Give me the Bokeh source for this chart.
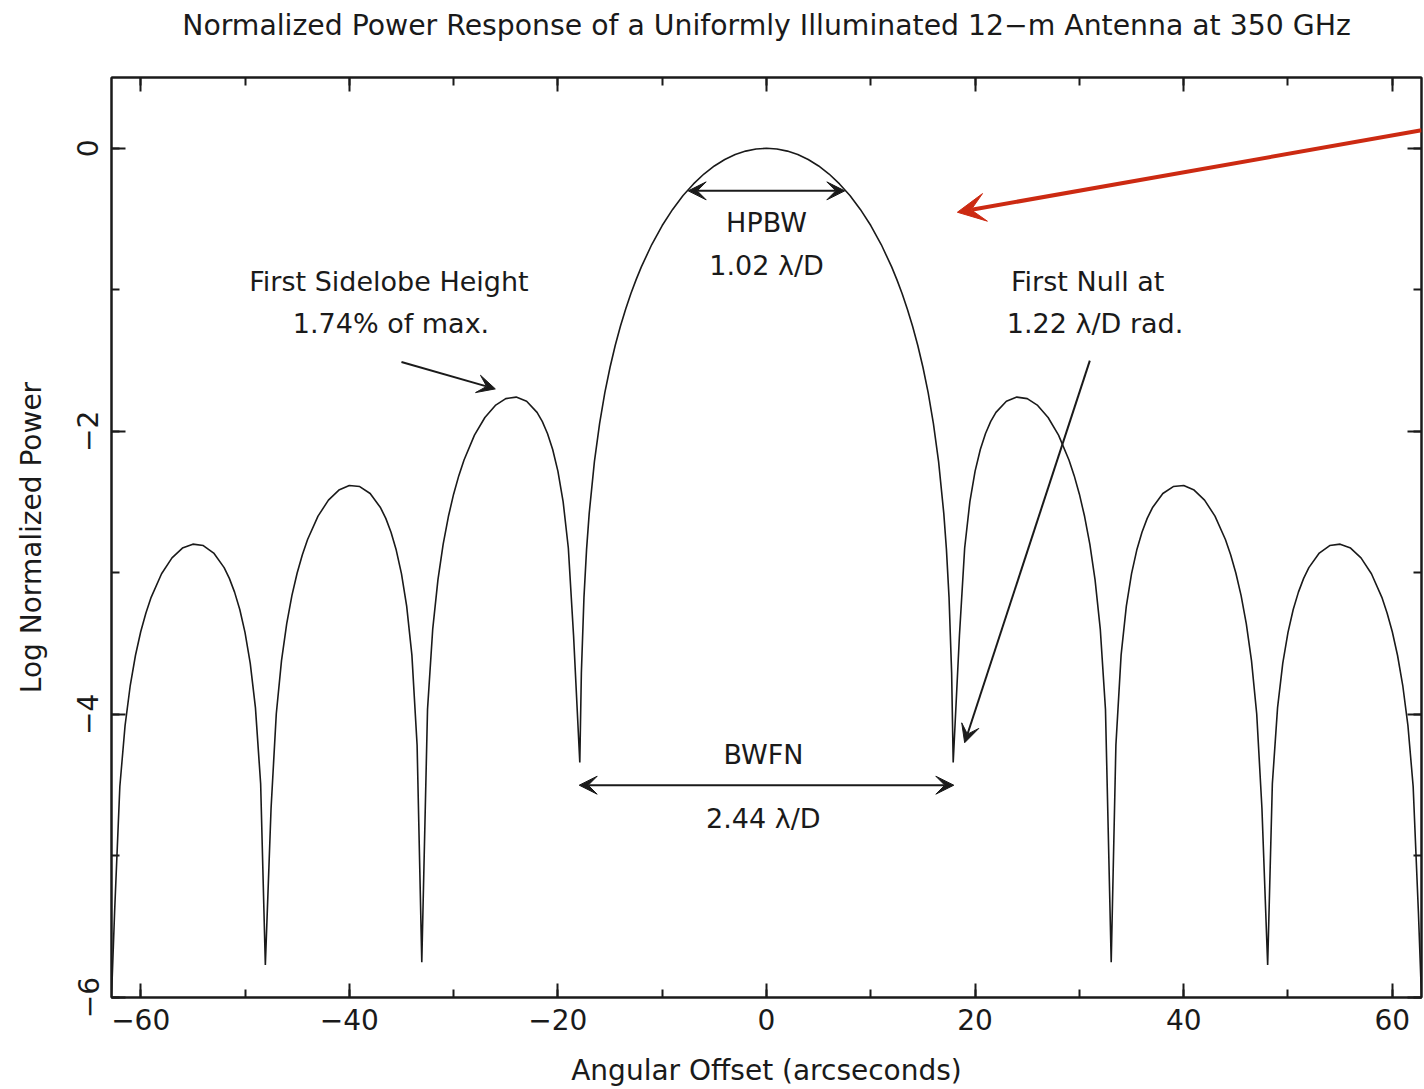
from bokeh.plotting import figure
from bokeh.models import (LinearAxis, FixedTicker, Label, Arrow, VeeHead, Range1d)
from bokeh.embed import file_html
from bokeh.resources import INLINE

# Angular offset from boresight (arcseconds) and log10 of the normalized power
offset_arcsec = [
    -62.8, -62.5, -62.0, -61.5, -61.0, -60.5, -60.0, -59.5,
    -59.0, -58.0, -57.0, -56.0, -55.0, -54.0, -53.0,
    -52.0, -51.5, -51.0, -50.5, -50.0, -49.5, -49.0, -48.5, -48.05,
    -47.5, -47.0, -46.5, -46.0, -45.5, -45.0, -44.5,
    -44.0, -43.0, -42.0, -41.0, -40.0, -39.0, -38.0,
    -37.0, -36.5, -36.0, -35.5, -35.0, -34.5, -34.0, -33.5, -33.05,
    -32.5, -32.0, -31.5, -31.0, -30.5, -30.0, -29.5,
    -29.0, -28.0, -27.0, -26.0, -25.0, -24.0, -23.0,
    -22.0, -21.5, -21.0, -20.5, -20.0, -19.5, -19.0, -18.5,
    -17.9, -17.75, -17.5, -17.25,
    -17.0, -16.5, -16.0, -15.5, -15.0, -14.5, -14.0, -13.5, -13.0, -12.5,
    -12.0, -11.0, -10.0, -9.0, -8.0, -7.0, -6.0, -5.0, -4.0, -3.0, -2.0, -1.0,
    0.0,
    1.0, 2.0, 3.0, 4.0, 5.0, 6.0, 7.0, 8.0, 9.0, 10.0, 11.0, 12.0,
    12.5, 13.0, 13.5, 14.0, 14.5, 15.0, 15.5, 16.0, 16.5, 17.0,
    17.25, 17.5, 17.75, 17.9,
    18.5, 19.0, 19.5, 20.0, 20.5, 21.0, 21.5, 22.0,
    23.0, 24.0, 25.0, 26.0, 27.0, 28.0, 29.0,
    29.5, 30.0, 30.5, 31.0, 31.5, 32.0, 32.5,
    33.05, 33.5, 34.0, 34.5, 35.0, 35.5, 36.0, 36.5, 37.0,
    38.0, 39.0, 40.0, 41.0, 42.0, 43.0, 44.0,
    44.5, 45.0, 45.5, 46.0, 46.5, 47.0, 47.5,
    48.05, 48.5, 49.0, 49.5, 50.0, 50.5, 51.0, 51.5, 52.0,
    53.0, 54.0, 55.0, 56.0, 57.0, 58.0, 59.0,
    59.5, 60.0, 60.5, 61.0, 61.5, 62.0, 62.5, 62.8,
]
log_power = [
    -6.000, -5.390, -4.509, -4.079, -3.794, -3.582, -3.416, -3.283,
    -3.173, -3.006, -2.894, -2.825, -2.797, -2.807, -2.860,
    -2.963, -3.039, -3.136, -3.259, -3.420, -3.637, -3.952, -4.490, -5.770,
    -4.661, -3.995, -3.620, -3.358, -3.159, -3.001, -2.872,
    -2.764, -2.599, -2.486, -2.415, -2.383, -2.390, -2.439,
    -2.540, -2.615, -2.713, -2.839, -3.005, -3.235, -3.579, -4.216, -5.750,
    -3.963, -3.395, -3.048, -2.797, -2.602, -2.444, -2.313,
    -2.202, -2.027, -1.902, -1.817, -1.769, -1.758, -1.787,
    -1.866, -1.930, -2.015, -2.128, -2.281, -2.496, -2.824, -3.441,
    -4.340, -3.705, -3.171, -2.832,
    -2.581, -2.214, -1.943, -1.727, -1.547, -1.392, -1.256, -1.135, -1.026, -0.928,
    -0.838, -0.680, -0.546, -0.432, -0.334, -0.252, -0.182, -0.125, -0.079, -0.044, -0.020, -0.005,
    0.000,
    -0.005, -0.020, -0.044, -0.079, -0.125, -0.182, -0.252, -0.334, -0.432, -0.546, -0.680, -0.838,
    -0.928, -1.026, -1.135, -1.256, -1.392, -1.547, -1.727, -1.943, -2.214, -2.581,
    -2.832, -3.171, -3.705, -4.340,
    -3.441, -2.824, -2.496, -2.281, -2.128, -2.015, -1.930, -1.866,
    -1.787, -1.758, -1.769, -1.817, -1.902, -2.027, -2.202,
    -2.313, -2.444, -2.602, -2.797, -3.048, -3.395, -3.963,
    -5.750, -4.216, -3.579, -3.235, -3.005, -2.839, -2.713, -2.615, -2.540,
    -2.439, -2.390, -2.383, -2.415, -2.486, -2.599, -2.764,
    -2.872, -3.001, -3.159, -3.358, -3.620, -3.995, -4.661,
    -5.770, -4.490, -3.952, -3.637, -3.420, -3.259, -3.136, -3.039, -2.963,
    -2.860, -2.807, -2.797, -2.825, -2.894, -3.006, -3.173,
    -3.283, -3.416, -3.582, -3.794, -4.079, -4.509, -5.390, -6.000,
]

# Axis ticks and their labels
x_major = [-60, -40, -20, 0, 20, 40, 60]
x_minor = [-60, -50, -40, -30, -20, -10, 0, 10, 20, 30, 40, 50, 60]
x_labels = ["\u221260", "\u221240", "\u221220", "0", "20", "40", "60"]
y_major = [-6, -4, -2, 0]
y_minor = [-6, -5, -4, -3, -2, -1, 0]
y_labels = ["\u22126", "\u22124", "\u22122", "0"]

# Beam quantities quoted in the annotations
lam_over_d_arcsec = 14.72      # lambda/D at 350 GHz for a 12-m dish
hpbw_factor = 1.02
bwfn_factor = 2.44
half_power_log = -0.301        # log10(0.5)

TITLE = "Normalized Power Response of a Uniformly Illuminated 12\u2212m Antenna at 350 GHz"
FONT = "DejaVu Sans"
INK = "#1a1a1a"

p = figure(
    width=1424, height=1089,
    output_backend="svg", toolbar_location=None,
    x_range=Range1d(-62.8, 62.8), y_range=Range1d(-6.0, 0.5),
    min_border_left=111, min_border_right=3,
    min_border_top=77, min_border_bottom=92,
    background_fill_color="white", border_fill_color="white",
)
p.grid.visible = False
p.outline_line_color = INK
p.outline_line_width = 2

p.add_layout(LinearAxis(), "above")
p.add_layout(LinearAxis(), "right")

for ax in p.xaxis:
    ax.ticker = FixedTicker(ticks=x_major, minor_ticks=x_minor)
    ax.major_label_overrides = dict(zip(x_major, x_labels))
for ax in p.yaxis:
    ax.ticker = FixedTicker(ticks=y_major, minor_ticks=y_minor)
    ax.major_label_overrides = dict(zip(y_major, y_labels))

for ax in p.axis:
    ax.axis_line_color = INK
    ax.axis_line_width = 2
    ax.major_tick_line_color = INK
    ax.major_tick_line_width = 2
    ax.minor_tick_line_color = INK
    ax.minor_tick_line_width = 2
    ax.major_tick_in = 14
    ax.major_tick_out = 0
    ax.minor_tick_in = 8
    ax.minor_tick_out = 0
    ax.major_label_text_font = FONT
    ax.major_label_text_font_size = "28px"
    ax.major_label_text_color = INK
    ax.axis_label_text_font = FONT
    ax.axis_label_text_font_size = "28px"
    ax.axis_label_text_font_style = "normal"
    ax.axis_label_text_color = INK

# mirrored frame ticks on top and right carry no tick labels
top_axis, right_axis = p.above[-1], p.right[-1]
for ax in (top_axis, right_axis):
    ax.major_label_text_font_size = "1px"
    ax.major_label_text_color = None
    ax.major_label_standoff = 0

# heading sits above the top frame edge, centred over the plot area
top_axis.axis_label = TITLE
top_axis.axis_label_text_font_size = "28.3px"
top_axis.axis_label_standoff = 36

xb = p.below[0]
xb.axis_label = "Angular Offset (arcseconds)"
xb.major_label_standoff = 11
xb.axis_label_standoff = 21

yl = p.left[0]
yl.axis_label = "Log Normalized Power"
yl.major_label_orientation = "vertical"
yl.major_label_standoff = 13
yl.axis_label_standoff = 27

# the power pattern
p.line(offset_arcsec, log_power, line_width=1.6, line_color=INK)

# annotations
def head(size, color):
    return VeeHead(size=size, fill_color=color, line_color=color, line_width=1)

hp = hpbw_factor * lam_over_d_arcsec / 2
p.add_layout(Arrow(start=head(18, INK), end=head(18, INK),
                   x_start=-hp, y_start=half_power_log, x_end=hp, y_end=half_power_log,
                   line_width=2, line_color=INK))

bw = bwfn_factor * lam_over_d_arcsec / 2
p.add_layout(Arrow(start=head(18, INK), end=head(18, INK),
                   x_start=-bw, y_start=-4.50, x_end=bw, y_end=-4.50,
                   line_width=2, line_color=INK))

p.add_layout(Arrow(end=head(18, INK), x_start=-35.0, y_start=-1.51,
                   x_end=-26.0, y_end=-1.70, line_width=2, line_color=INK))
p.add_layout(Arrow(end=head(18, INK), x_start=31.0, y_start=-1.50,
                   x_end=19.0, y_end=-4.20, line_width=2, line_color=INK))

RED = "#cc2a12"
p.add_layout(Arrow(end=head(28, RED), x_start=62.8, y_start=0.127,
                   x_end=18.3, y_end=-0.452, line_width=4, line_color=RED))

texts = [
    (0.0, -0.523, "HPBW"),
    (0.0, -0.827, "1.02 \u03bb/D"),
    (-36.2, -0.940, "First Sidelobe Height"),
    (-36.0, -1.237, "1.74% of max."),
    (30.8, -0.940, "First Null at"),
    (31.5, -1.237, "1.22 \u03bb/D rad."),
    (-0.3, -4.283, "BWFN"),
    (-0.3, -4.735, "2.44 \u03bb/D"),
]
for tx, ty, t in texts:
    p.add_layout(Label(x=tx, y=ty, text=t, text_align="center", text_baseline="middle",
                       text_font=FONT, text_font_size="27px", text_color=INK))

open("out.html", "w").write(file_html(p, INLINE))
